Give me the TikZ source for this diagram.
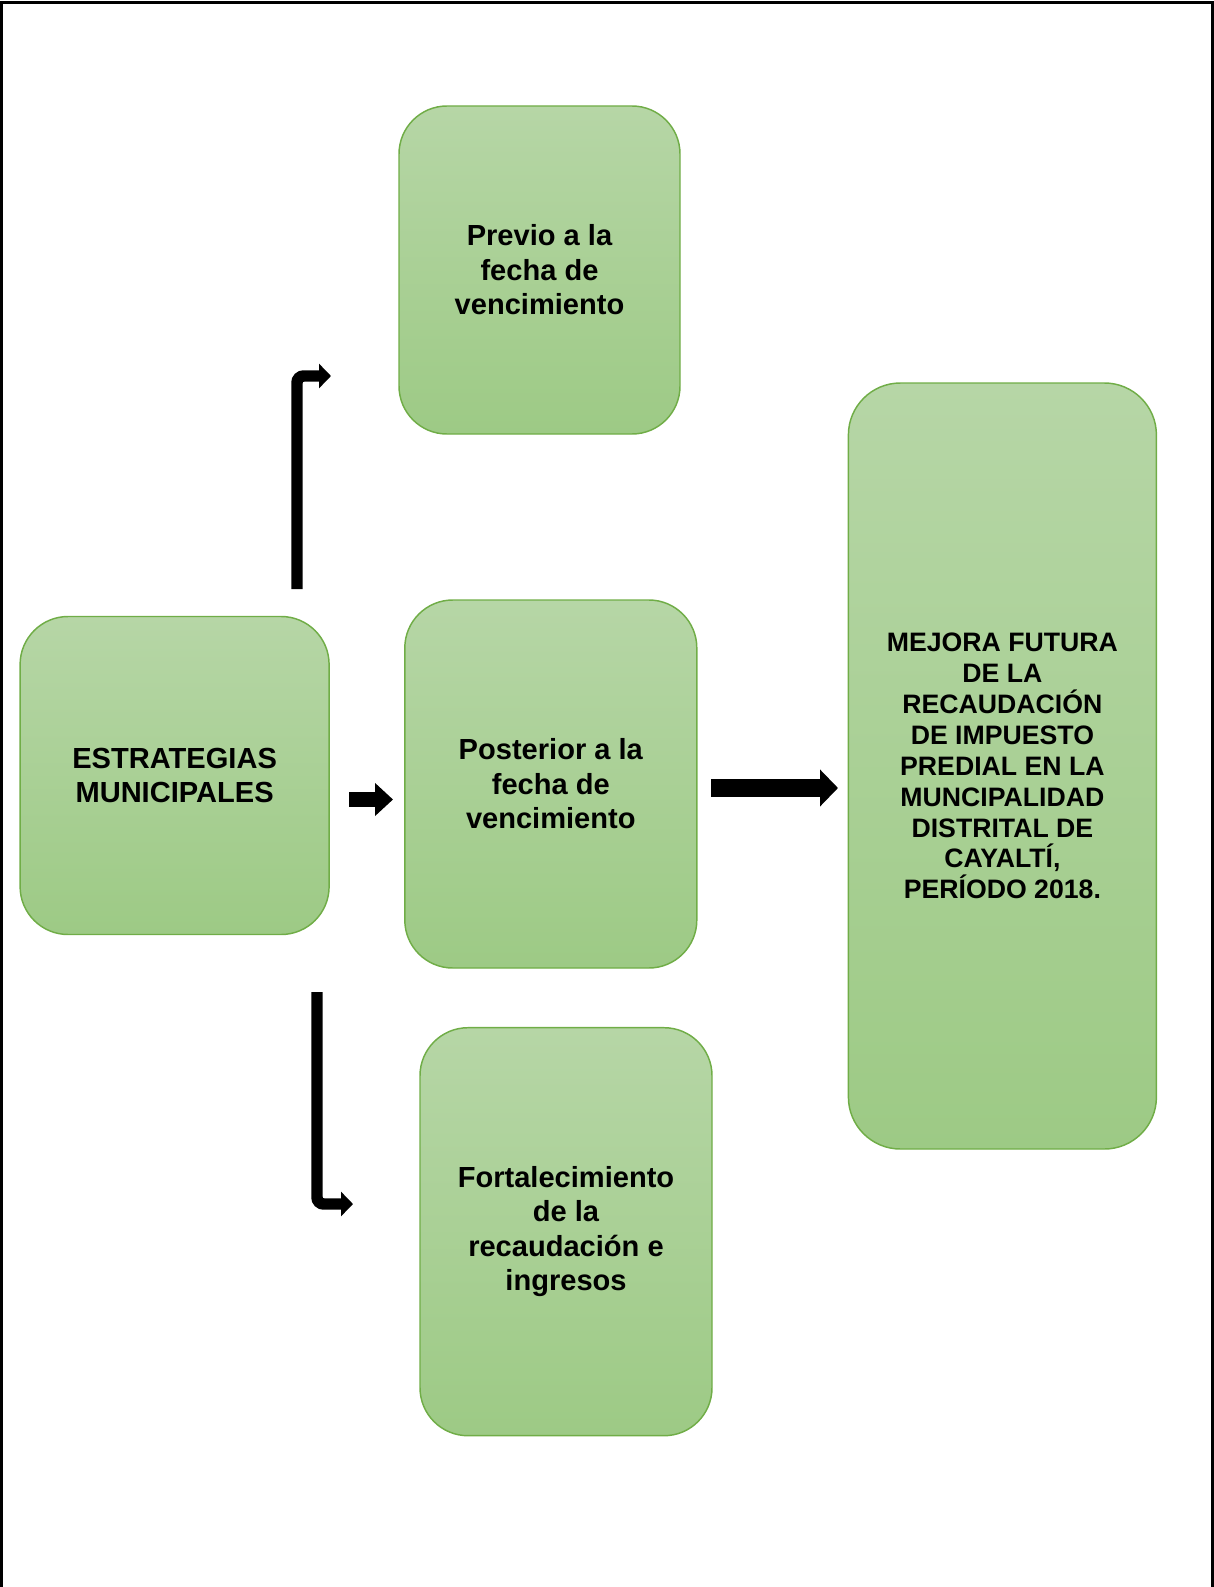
\documentclass[tikz,border=0pt]{standalone}
\usepackage{fontspec}
\setmainfont{Liberation Sans}
\usetikzlibrary{arrows.meta}
\definecolor{boxline}{RGB}{112,173,71}
\definecolor{boxtop}{RGB}{182,214,166}
\definecolor{boxbot}{RGB}{157,202,133}
\begin{document}
\begin{tikzpicture}[x=0.75pt,y=-0.75pt,
    box/.style={draw=boxline, line width=1.1pt, rounded corners=36pt,
      top color=boxtop, bottom color=boxbot, inner sep=0pt, align=center,
      font=\bfseries\fontsize{21.8}{25.8}\selectfont},
    bent/.style={line width=8.6pt, rounded corners=5pt, -{Triangle[length=9pt,width=18pt]}},
    block/.style={-{Triangle[length=13.5pt,width=#1]}}]
  \useasboundingbox (0,0) rectangle (1213,1587);
  % frame
  \draw[line width=2.25pt] (1.5,1587) -- (1.5,3) -- (1212,3) -- (1212,1587);
  % boxes
  \node[box, minimum width=210.75pt, minimum height=246pt] (previo) at (539.5,270)
    {Previo a la\\fecha de\\vencimiento};
  \node[box, minimum width=231.75pt, minimum height=238.5pt] (estrategias) at (174.6,775.5)
    {ESTRATEGIAS\\MUNICIPALES};
  \node[box, minimum width=219pt, minimum height=276pt] (posterior) at (550.8,784)
    {Posterior a la\\fecha de\\vencimiento};
  \node[box, minimum width=219pt, minimum height=306pt] (fortalecimiento) at (566,1231.7)
    {Fortalecimiento\\de la\\recaudación e\\ingresos};
  \node[box, minimum width=231pt, minimum height=574.5pt, rounded corners=39pt,
    font=\bfseries\fontsize{20}{23.2}\selectfont] (mejora) at (1002.4,766)
    {MEJORA FUTURA\\DE LA\\RECAUDACIÓN\\DE IMPUESTO\\PREDIAL EN LA\\MUNCIPALIDAD\\DISTRITAL DE\\CAYALTÍ,\\PERÍODO 2018.};
  % arrow ends
  \coordinate (upfoot) at (297,589);
  \coordinate (uptip) at (331,376);
  \coordinate (downfoot) at (317,992);
  \coordinate (downtip) at (353,1204);
  \coordinate (midfoot) at (349,799.5);
  \coordinate (midtip) at (393,799.5);
  \coordinate (bigfoot) at (711,788);
  \coordinate (bigtip) at (838,788);
  \begin{scope}
    \draw[bent] (upfoot) |- (uptip);
    \draw[bent] (downfoot) |- (downtip);
    \draw[block=24pt, line width=11.25pt] (midfoot) -- (midtip);
    \draw[block=27pt, line width=13.5pt] (bigfoot) -- (bigtip);
  \end{scope}
\end{tikzpicture}
\end{document}
